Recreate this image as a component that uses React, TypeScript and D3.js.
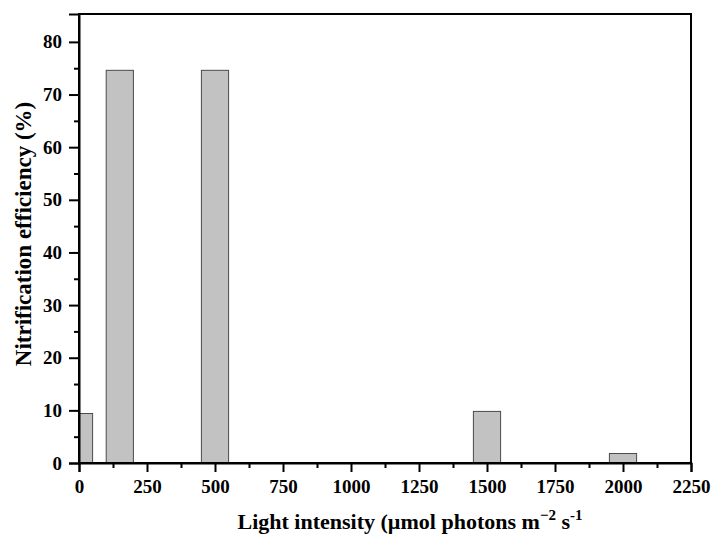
import React, { useEffect, useRef } from 'react';
import * as d3 from 'd3';

// light intensity (µmol photons m-2 s-1) and nitrification efficiency (%)
const intensities = [0, 150, 500, 1500, 2000];
const efficiencies = [9.4, 74.6, 74.6, 9.8, 1.8];
const xTicks = [0, 250, 500, 750, 1000, 1250, 1500, 1750, 2000, 2250];
const yTicks = [0, 10, 20, 30, 40, 50, 60, 70, 80];
const barWidth = 100;

const App = () => {
  const ref = useRef<SVGSVGElement>(null);

  useEffect(() => {
    document.body.style.margin = '0';
    const svg = d3.select(ref.current);
    svg.selectAll('*').remove();

    const width = 714;
    const height = 536;
    const margin = { top: 14, right: 23, bottom: 73, left: 79 };
    const font = '"Liberation Serif", "Times New Roman", serif';

    const x = d3.scaleLinear()
      .domain([0, 2250])
      .range([margin.left, width - margin.right]);
    const y = d3.scaleLinear()
      .domain([0, 85.3])
      .range([height - margin.bottom, margin.top]);

    svg.append('clipPath').attr('id', 'plot-clip')
      .append('rect')
      .attr('x', margin.left).attr('y', margin.top)
      .attr('width', width - margin.left - margin.right)
      .attr('height', height - margin.top - margin.bottom);

    svg.append('g')
      .attr('clip-path', 'url(#plot-clip)')
      .selectAll('rect')
      .data(intensities)
      .enter().append('rect')
      .attr('x', d => x(d - barWidth / 2))
      .attr('y', (d, i) => y(efficiencies[i]))
      .attr('width', x(barWidth) - x(0))
      .attr('height', (d, i) => y(0) - y(efficiencies[i]))
      .attr('fill', '#c2c2c2')
      .attr('stroke', '#4a4a4a')
      .attr('stroke-width', 1);

    // frame
    svg.append('rect')
      .attr('x', margin.left).attr('y', margin.top)
      .attr('width', width - margin.left - margin.right)
      .attr('height', height - margin.top - margin.bottom)
      .attr('fill', 'none')
      .attr('stroke', '#000')
      .attr('stroke-width', 2);

    const xAxis = svg.append('g')
      .attr('transform', `translate(0,${height - margin.bottom})`)
      .call(d3.axisBottom(x).tickValues(xTicks).tickSize(9).tickPadding(8).tickFormat(d3.format('d')));
    svg.append('g')
      .attr('transform', `translate(0,${height - margin.bottom})`)
      .call(d3.axisBottom(x).tickValues(d3.range(125, 2250, 250)).tickSize(5).tickFormat(() => ''))
      .call(g => g.select('.domain').remove());

    const yAxis = svg.append('g')
      .attr('transform', `translate(${margin.left},0)`)
      .call(d3.axisLeft(y).tickValues(yTicks).tickSize(10).tickPadding(7));
    svg.append('g')
      .attr('transform', `translate(${margin.left},0)`)
      .call(d3.axisLeft(y).tickValues(d3.range(5, 85, 10)).tickSize(5).tickFormat(() => ''))
      .call(g => g.select('.domain').remove());

    svg.selectAll('.domain').attr('stroke-width', 2);
    svg.selectAll('.tick line').attr('stroke-width', 2);
    [xAxis, yAxis].forEach(g => g.selectAll('text')
      .attr('font-family', font)
      .attr('font-weight', 'bold')
      .attr('font-size', 19)
      .attr('fill', '#000'));

    const xLabel = svg.append('text')
      .attr('x', 410)
      .attr('y', 529)
      .attr('text-anchor', 'middle')
      .attr('font-family', font)
      .attr('font-weight', 'bold')
      .attr('font-size', 22);
    xLabel.append('tspan').text('Light intensity (µmol photons m');
    xLabel.append('tspan').attr('dy', -9).attr('font-size', 15).text('−2');
    xLabel.append('tspan').attr('dy', 9).text(' s');
    xLabel.append('tspan').attr('dy', -9).attr('font-size', 15).text('-1');

    svg.append('text')
      .attr('transform', 'translate(31,234) rotate(-90)')
      .attr('text-anchor', 'middle')
      .attr('font-family', font)
      .attr('font-weight', 'bold')
      .attr('font-size', 23)
      .text('Nitrification efficiency (%)');
  }, []);

  return <svg ref={ref} width={714} height={536} style={{ display: 'block', background: '#fff' }}></svg>;
};

export default App;
